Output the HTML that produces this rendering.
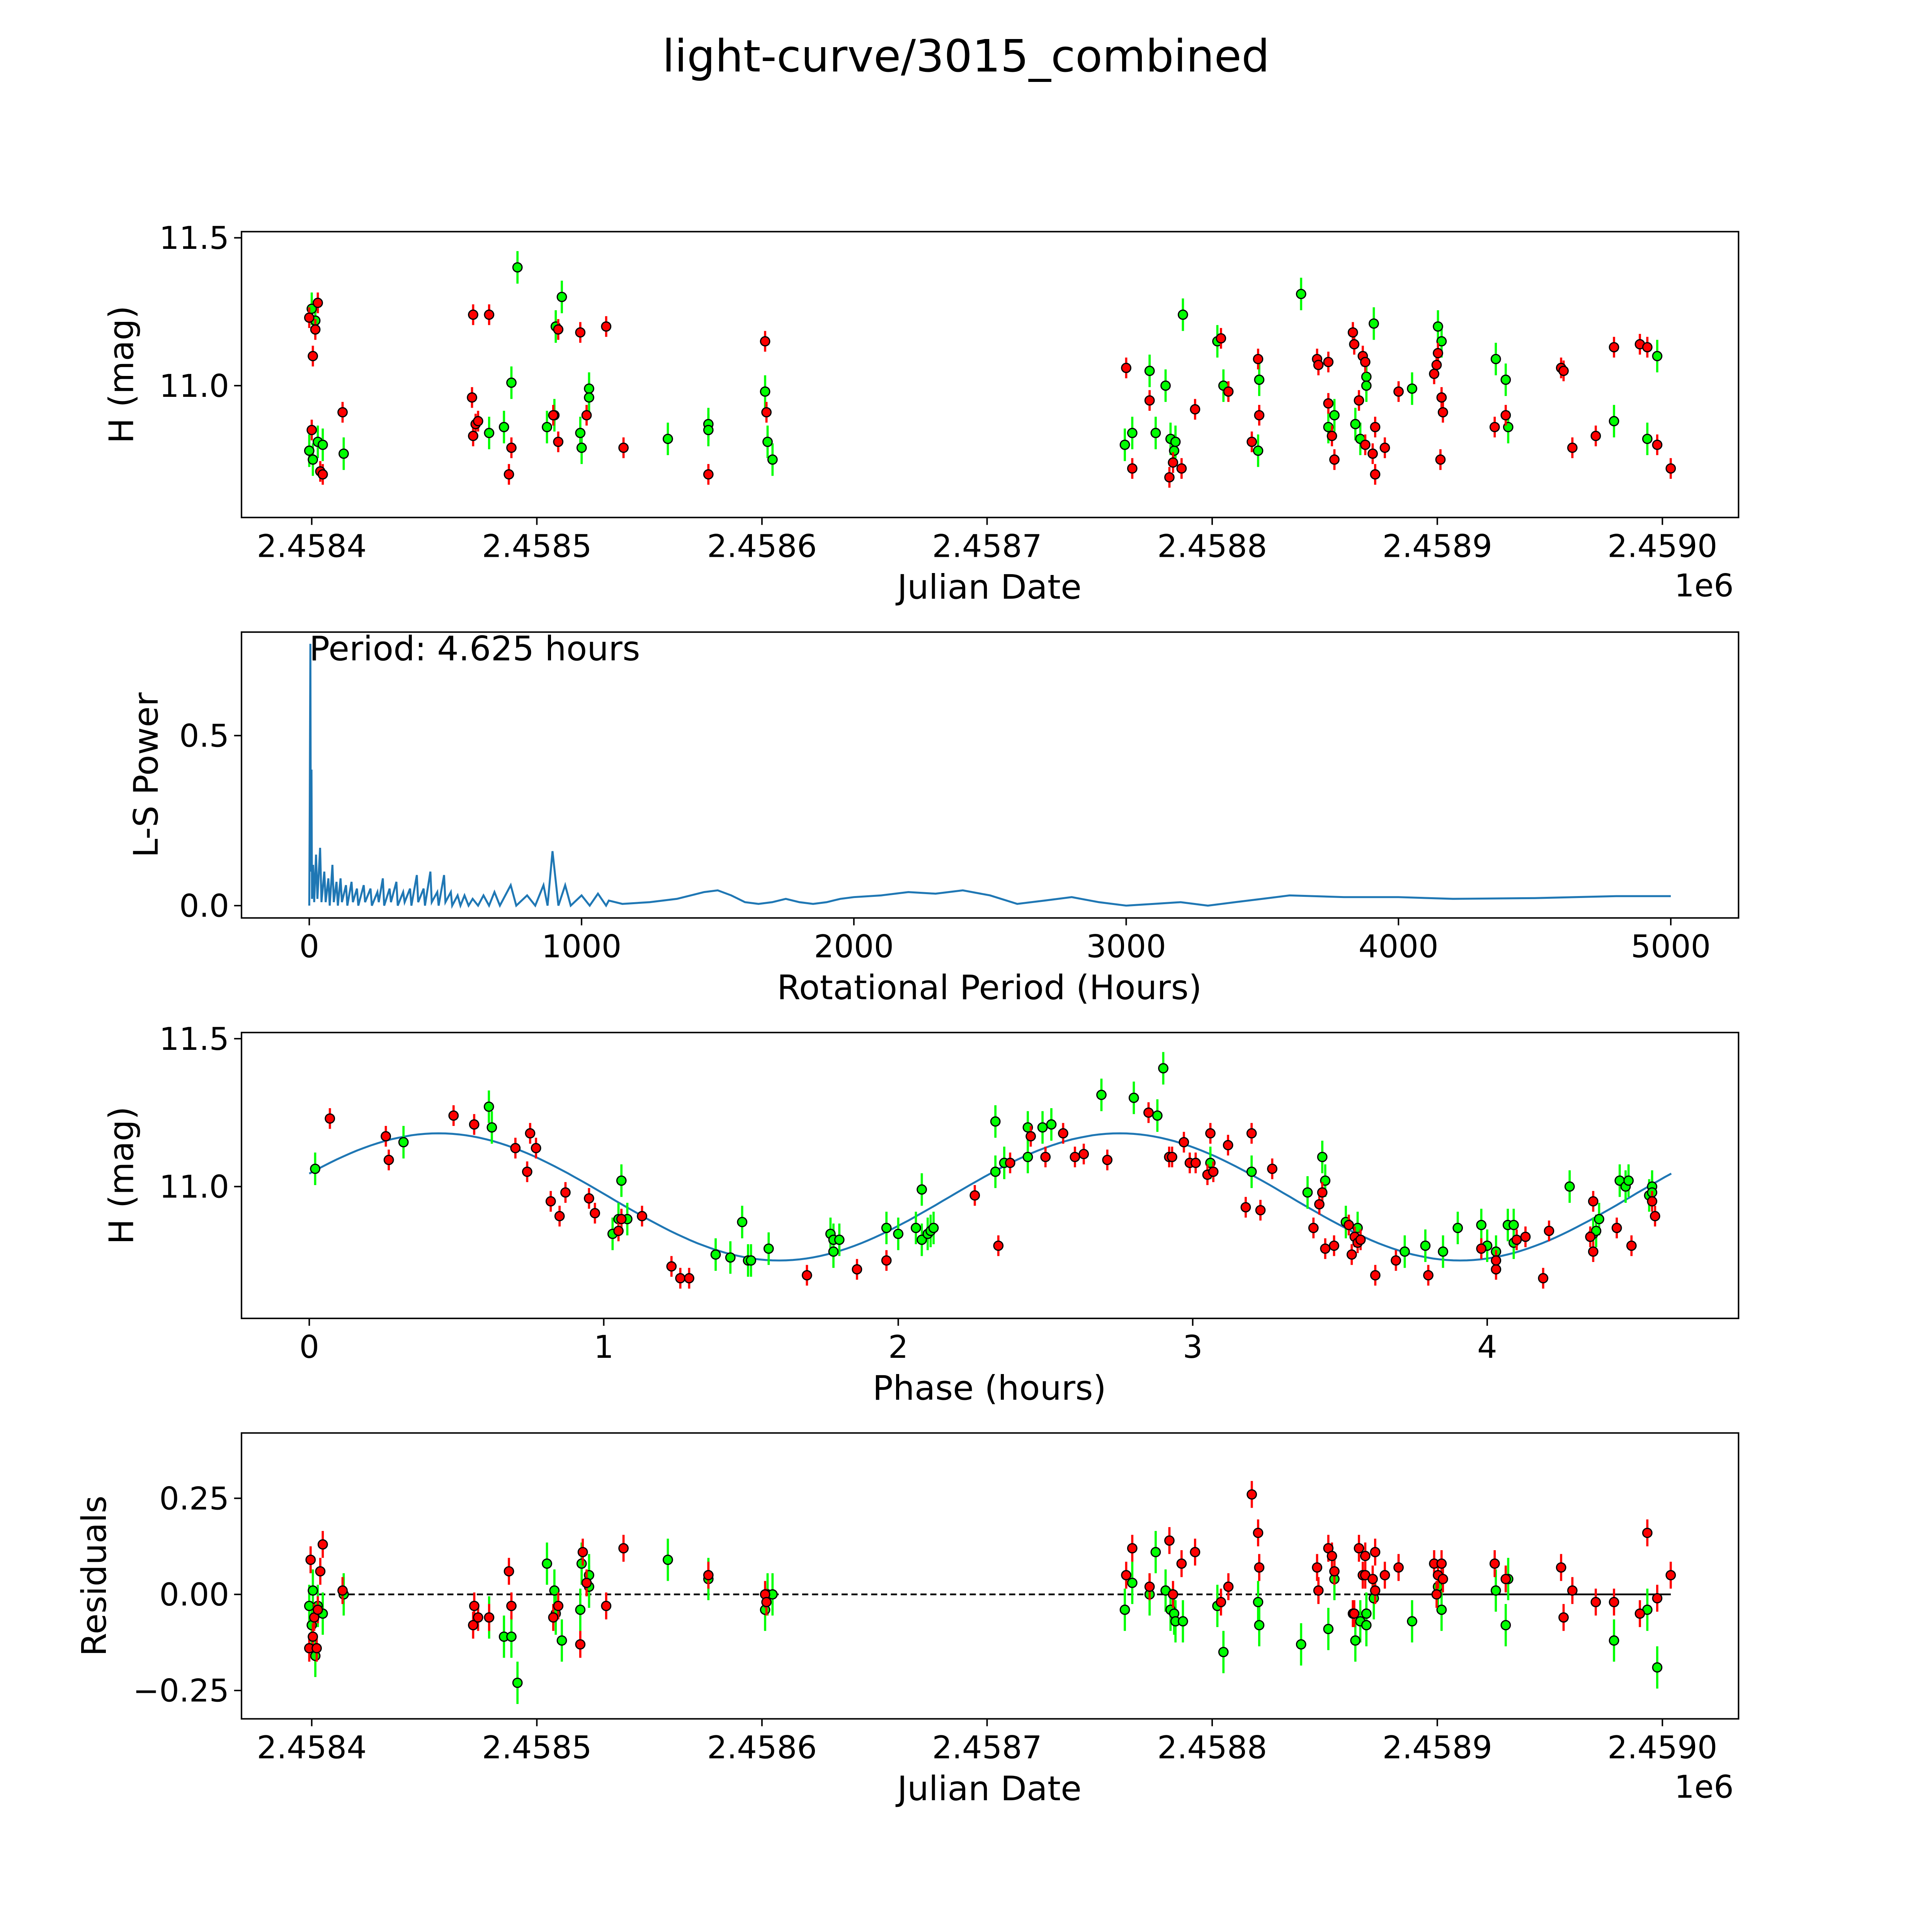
<!DOCTYPE html>
<html><head><meta charset="utf-8"><style>
html,body{margin:0;padding:0;background:#fff;overflow:hidden;width:100%;height:100%}
svg{display:block;width:100vw;height:100vh}
text{font-family:"DejaVu Sans","Liberation Sans",sans-serif;fill:#000}
</style></head><body>
<svg id="fig" viewBox="0 0 1568 1568" preserveAspectRatio="none" xmlns="http://www.w3.org/2000/svg">
<rect width="1568" height="1568" fill="#fff"/>
<text x="784" y="58" font-size="36" text-anchor="middle">light-curve/3015_combined</text>
</svg>
<script>
const jdTicks=[2458400,2458500,2458600,2458700,2458800,2458900,2459000];
const jdTickLabels=["2.4584","2.4585","2.4586","2.4587","2.4588","2.4589","2.4590"];
const magTicks=[11.0,11.5];
const magTickLabels=["11.0","11.5"];
const powTicks=[0,0.5];
const powTickLabels=["0.0","0.5"];
const perTicks=[0,1000,2000,3000,4000,5000];
const perTickLabels=["0","1000","2000","3000","4000","5000"];
const phTicks=[0,1,2,3,4];
const phTickLabels=["0","1","2","3","4"];
const resTicks=[-0.25,0,0.25];
const resTickLabels=["\u22120.25","0.00","0.25"];
const lcRed=[[-1.1,11.23],[0.5,11.10],[1.6,11.19],[2.7,11.28],[0,10.85],[3.8,10.71],[4.9,10.70],[13.7,10.91],
[71.7,11.24],[78.8,11.24],[71.2,10.96],[71.7,10.83],[72.8,10.87],[73.9,10.88],[87.6,10.70],[88.7,10.79],[107.3,10.90],[109.5,10.81],[109.5,11.19],[119.3,11.18],[122.1,10.90],[130.8,11.20],[138.5,10.79],[176.2,10.70],[201.4,11.15],[202,10.91],
[361.8,11.06],[364.5,10.72],[372.2,10.95],[381,10.69],[382.6,10.74],[386.4,10.72],[392.4,10.92],[403.9,11.16],[407.2,10.98],[417.6,10.81],[420.4,11.09],[420.9,10.90],[446.6,11.09],[447.2,11.07],[451.6,11.08],[451.6,10.94],[453.2,10.83],[454.3,10.75],[462.5,11.18],[463.1,11.14],[465.2,10.95],[466.9,11.10],[468,11.08],[468,10.80],[471.3,10.77],[472.4,10.86],[472.4,10.70],[476.7,10.79],[482.8,10.98],[498.6,11.04],[499.7,11.07],[500.3,11.11],[501.9,10.96],[502.5,10.91],[501.4,10.75],[525.5,10.86],[530.4,10.90],[555,11.06],[556.1,11.05],[560,10.79],[570.4,10.83],[578.5,11.13],[590,11.14],[593.3,11.13],[597.7,10.80],[603.7,10.72]];
const lcGreen=[[0,11.26],[1.6,11.22],[-1.1,10.78],[0.5,10.75],[2.7,10.81],[4.9,10.80],[14.2,10.77],
[78.8,10.84],[85.4,10.86],[88.7,11.01],[91.4,11.40],[104.5,10.86],[107.8,10.90],[108.4,11.20],[111.1,11.30],[119.3,10.84],[119.9,10.79],[123.2,10.99],[123.2,10.96],[158.2,10.82],[176.2,10.87],[176.2,10.85],[201.4,10.98],[202.5,10.81],[204.7,10.75],
[361.2,10.80],[364.5,10.84],[372.2,11.05],[374.9,10.84],[379.3,11.00],[381.5,10.82],[383.1,10.78],[383.7,10.81],[387,11.24],[402.3,11.15],[405,11.00],[420.4,10.78],[420.9,11.02],[439.5,11.31],[451.6,10.86],[454.3,10.90],[463.6,10.87],[465.8,10.82],[468.5,11.03],[468.5,11.00],[471.8,11.21],[488.8,10.99],[500.3,11.20],[501.9,11.15],[526,11.09],[530.4,11.02],[531.5,10.86],[578.5,10.88],[593.3,10.82],[597.7,11.10]];
const resRed=[[-0.5,0.09],[-1.1,-0.14],[0.5,-0.11],[1.1,-0.06],[2.2,-0.14],[2.7,-0.04],[3.8,0.06],[4.9,0.13],[13.7,0.01],
[71.7,-0.08],[72.2,-0.03],[73.9,-0.06],[78.8,-0.06],[87.6,0.06],[88.7,-0.03],[107.3,-0.06],[109.5,-0.03],[119.3,-0.13],[120.4,0.11],[122.1,0.03],[130.8,-0.03],[138.5,0.12],[176.2,0.05],[201.4,0.0],[202,-0.02],
[361.8,0.05],[364.5,0.12],[372.2,0.02],[381,0.14],[382.6,0.0],[386.4,0.08],[392.4,0.11],[403.9,-0.02],[407.2,0.02],[417.6,0.26],[420.4,0.16],[420.9,0.07],[446.6,0.07],[447.2,0.01],[451.6,0.12],[453.2,0.10],[454.3,0.06],[462.5,-0.05],[463.1,-0.05],[465.2,0.12],[466.9,0.05],[468,0.10],[468,0.05],[471.3,0.04],[472.4,0.11],[472.4,0.01],[476.7,0.05],[482.8,0.07],[498.6,0.08],[499.7,0.0],[500.3,0.05],[501.9,0.08],[502.5,0.04],[525.5,0.08],[530.4,0.04],[555,0.07],[556.1,-0.06],[560,0.01],[570.4,-0.02],[578.5,-0.02],[590,-0.05],[593.3,0.16],[597.7,-0.01],[603.7,0.05]];
const resGreen=[[-1.1,-0.03],[0,-0.08],[0.5,0.01],[1.6,-0.16],[2.7,-0.03],[4.9,-0.05],[14.2,0.0],
[78.8,-0.06],[85.4,-0.11],[88.7,-0.11],[91.4,-0.23],[104.5,0.08],[107.8,0.01],[108.4,-0.05],[111.1,-0.12],[119.3,-0.04],[119.9,0.08],[123.2,0.05],[123.2,0.02],[158.2,0.09],[176.2,0.04],[201.4,-0.04],[202.5,0.0],[204.7,0.0],
[361.2,-0.04],[364.5,0.03],[372.2,0.0],[374.9,0.11],[379.3,0.01],[381.5,-0.04],[383.1,-0.05],[383.7,-0.07],[387,-0.07],[402.3,-0.03],[405,-0.15],[420.4,-0.02],[420.9,-0.08],[439.5,-0.13],[451.6,-0.09],[454.3,0.04],[463.6,-0.12],[465.8,-0.07],[468.5,-0.05],[468.5,-0.08],[471.8,-0.01],[488.8,-0.07],[500.3,0.02],[501.9,-0.04],[526,0.01],[530.4,-0.08],[531.5,0.04],[578.5,-0.12],[593.3,-0.04],[597.7,-0.19]];
const phRed=[[0.07,11.23],[0.26,11.17],[0.27,11.09],[0.49,11.24],[0.56,11.21],[0.70,11.13],[0.74,11.05],[0.75,11.18],[0.77,11.13],[0.82,10.95],[0.85,10.90],[0.87,10.98],[0.95,10.96],[0.97,10.91],[1.05,10.85],[1.06,10.89],[1.13,10.90],[1.23,10.73],[1.26,10.69],[1.29,10.69],[1.69,10.70],[1.86,10.72],[1.96,10.75],[2.26,10.97],[2.34,10.80],[2.38,11.08],[2.45,11.17],[2.50,11.10],[2.56,11.18],[2.60,11.10],[2.63,11.11],[2.71,11.09],[2.85,11.25],[2.92,11.10],[2.93,11.10],[2.97,11.15],[2.99,11.08],[3.01,11.08],[3.05,11.04],[3.06,11.18],[3.07,11.05],[3.12,11.14],[3.18,10.93],[3.20,11.18],[3.23,10.92],[3.27,11.06],[3.41,10.86],[3.43,10.94],[3.44,10.98],[3.45,10.79],[3.48,10.80],[3.53,10.87],[3.54,10.77],[3.55,10.83],[3.56,10.81],[3.57,10.82],[3.62,10.70],[3.69,10.75],[3.80,10.70],[3.98,10.79],[4.03,10.72],[4.03,10.75],[4.10,10.82],[4.13,10.83],[4.19,10.69],[4.21,10.85],[4.35,10.83],[4.36,10.78],[4.36,10.95],[4.44,10.86],[4.49,10.80],[4.57,10.90],[4.56,10.95]];
const phGreen=[[0.02,11.06],[0.32,11.15],[0.61,11.27],[0.62,11.20],[1.03,10.84],[1.05,10.89],[1.06,11.02],[1.08,10.89],[1.38,10.77],[1.43,10.76],[1.47,10.88],[1.49,10.75],[1.50,10.75],[1.56,10.79],[1.77,10.84],[1.78,10.82],[1.78,10.78],[1.80,10.82],[1.96,10.86],[2.00,10.84],[2.06,10.86],[2.08,10.82],[2.08,10.99],[2.10,10.84],[2.11,10.85],[2.12,10.86],[2.33,11.22],[2.33,11.05],[2.36,11.08],[2.44,11.10],[2.44,11.20],[2.49,11.20],[2.52,11.21],[2.69,11.31],[2.80,11.30],[2.88,11.24],[2.90,11.40],[3.06,11.08],[3.20,11.05],[3.39,10.98],[3.44,11.10],[3.45,11.02],[3.52,10.88],[3.56,10.86],[3.72,10.78],[3.79,10.80],[3.85,10.78],[3.90,10.86],[3.98,10.87],[4.00,10.80],[4.03,10.78],[4.07,10.87],[4.09,10.81],[4.09,10.87],[4.28,11.00],[4.36,10.84],[4.37,10.85],[4.38,10.89],[4.45,11.02],[4.47,11.00],[4.48,11.02],[4.55,10.97],[4.56,11.00],[4.56,10.98]];
const periodHours=[0,2,4,6,8,10,14,18,25,30,40,45,55,60,70,75,85,90,100,105,115,120,135,140,155,160,175,180,200,205,225,230,250,255,270,275,295,300,320,325,345,350,370,375,395,400,420,425,445,450,470,475,495,500,520,525,545,555,570,585,600,620,640,660,680,700,740,760,800,830,860,875,893,915,940,960,1000,1030,1060,1090,1100,1150,1250,1350,1450,1500,1550,1600,1650,1700,1750,1800,1850,1900,1950,2000,2100,2200,2300,2400,2500,2600,2700,2800,2900,3000,3100,3200,3300,3400,3500,3600,3800,4000,4200,4500,4800,5000];
const lsPower=[0,0.3,0.77,0.1,0.4,0.02,0.12,0.01,0.15,0.02,0.17,0.01,0.1,0.01,0.08,0,0.12,0.01,0.07,0,0.08,0.01,0.06,0,0.07,0.01,0.05,0,0.06,0.01,0.05,0,0.04,0.01,0.08,0,0.05,0.01,0.07,0,0.04,0.01,0.05,0,0.09,0.01,0.05,0,0.1,0.01,0.04,0,0.09,0.01,0.04,0,0.03,0,0.03,0,0.02,0,0.03,0,0.04,0,0.06,0,0.03,0,0.06,0,0.16,0,0.06,0,0.03,0,0.035,0,0.015,0.005,0.01,0.02,0.04,0.045,0.03,0.01,0.005,0.01,0.02,0.01,0.005,0.01,0.02,0.025,0.03,0.04,0.035,0.045,0.03,0.005,0.015,0.025,0.01,0,0.005,0.01,0,0.01,0.02,0.03,0.025,0.025,0.02,0.022,0.028,0.028];
const fitMean=10.965, fitAmp=0.215, fitPeriod=2.3125, fitPeak=0.44, phaseMax=4.625;

const NS="http://www.w3.org/2000/svg";
const svg=document.getElementById('fig');
function el(tag,attrs,parent){const e=document.createElementNS(NS,tag);for(const k in attrs)e.setAttribute(k,attrs[k]);(parent||svg).appendChild(e);return e;}
const L=196,R=1411;
function lin(d0,d1,p0,p1){return v=>p0+(v-d0)*(p1-p0)/(d1-d0);}
const xJD=lin(0,600,253,253+600*1.827);
const xPer=lin(0,5000,251,1356);
const xPh=lin(0,4,251,1207);
const panels=[
 {top:188,y:lin(11,11.5,313,193),name:'lightcurve'},
 {top:513,y:lin(0,0.5,735,597),name:'periodogram'},
 {top:838,y:lin(11,11.5,963,843),name:'phase'},
 {top:1163,y:lin(0,0.25,1294,1216),name:'residuals'}];
const H=232;
function frame(p,xs,xt,xl,ys,yl,xlabel,ylabel,ylx){
  const g=el('g',{});
  
  
  el('rect',{x:L,y:p.top,width:R-L,height:H,fill:'none',stroke:'#000','stroke-width':1.2},g);
  const bot=p.top+H;
  xt.forEach((t,i)=>{const x=xs(t);el('line',{x1:x,x2:x,y1:bot,y2:bot+6,stroke:'#000','stroke-width':1.2},g);
    const tx=el('text',{x:x,y:bot+32,'font-size':25.5,'text-anchor':'middle'},g);tx.textContent=xl[i];
    
    });
  ys.forEach((t,i)=>{const y=p.y(t);el('line',{x1:L-6,x2:L,y1:y,y2:y,stroke:'#000','stroke-width':1.2},g);
    const tx=el('text',{x:L-10,y:y+9,'font-size':25.5,'text-anchor':'end'},g);tx.textContent=yl[i];
    
    });
  const xlab=el('text',{x:803,y:bot+66,'font-size':27.5,'text-anchor':'middle'},g);xlab.textContent=xlabel;
  
  
  const cy=p.top+H/2;
  const ylab=el('text',{x:ylx,y:cy,'font-size':27.5,'text-anchor':'middle',transform:`rotate(-90 ${ylx} ${cy})`},g);ylab.textContent=ylabel;
  
  
  return g;
}
function points(g,arr,xs,ys,fill,err,name){
  arr.forEach(d=>{const x=xs(d[0]);
    el('line',{x1:x,x2:x,y1:ys(d[1]-err),y2:ys(d[1]+err),stroke:fill,'stroke-width':1.8},g);});
  arr.forEach(d=>{const c=el('circle',{cx:xs(d[0]),cy:ys(d[1]),r:3.7,fill:fill,stroke:'#000','stroke-width':1},g);
    
    });
}
let p=panels[0];
let g=frame(p,xJD,jdTicks.map(v=>v-2458400),jdTickLabels,magTicks,magTickLabels,'Julian Date','H (mag)',108);
let t=el('text',{x:1383,y:484,'font-size':25.5,'text-anchor':'middle'},g);t.textContent='1e6';
points(g,lcGreen,xJD,p.y,'#00ff00',0.055,'lightcurve-point-green');
points(g,lcRed,xJD,p.y,'#ff0000',0.035,'lightcurve-point-red');
p=panels[1];
g=frame(p,xPer,perTicks,perTickLabels,powTicks,powTickLabels,'Rotational Period (Hours)','L-S Power',128);
const pts=periodHours.map((h,i)=>xPer(h).toFixed(1)+','+p.y(lsPower[i]).toFixed(1)).join(' ');
const pl=el('polyline',{points:pts,fill:'none',stroke:'#1f77b4','stroke-width':1.6},g);


t=el('text',{x:251,y:536,'font-size':27.5},g);t.textContent='Period: 4.625 hours';


p=panels[2];
g=frame(p,xPh,phTicks,phTickLabels,magTicks,magTickLabels,'Phase (hours)','H (mag)',108);
let fp=[];for(let i=0;i<=200;i++){const ph=phaseMax*i/200;const m=fitMean+fitAmp*Math.cos(2*Math.PI*(ph-fitPeak)/fitPeriod);fp.push(xPh(ph).toFixed(1)+','+p.y(m).toFixed(1));}
const fl=el('polyline',{points:fp.join(' '),fill:'none',stroke:'#1f77b4','stroke-width':1.6},g);


points(g,phGreen,xPh,p.y,'#00ff00',0.055,'phase-point-green');
points(g,phRed,xPh,p.y,'#ff0000',0.035,'phase-point-red');
p=panels[3];
g=frame(p,xJD,jdTicks.map(v=>v-2458400),jdTickLabels,resTicks,resTickLabels,'Julian Date','Residuals',86);
t=el('text',{x:1383,y:1459,'font-size':25.5,'text-anchor':'middle'},g);t.textContent='1e6';
el('line',{x1:251,x2:1356,y1:p.y(0),y2:p.y(0),stroke:'#000','stroke-width':1.4,'stroke-dasharray':'5,3'},g);
el('line',{x1:xJD(470),x2:1356,y1:p.y(0),y2:p.y(0),stroke:'#000','stroke-width':1.4},g);
points(g,resGreen,xJD,p.y,'#00ff00',0.055,'residual-point-green');
points(g,resRed,xJD,p.y,'#ff0000',0.035,'residual-point-red');
</script>
</body></html>
